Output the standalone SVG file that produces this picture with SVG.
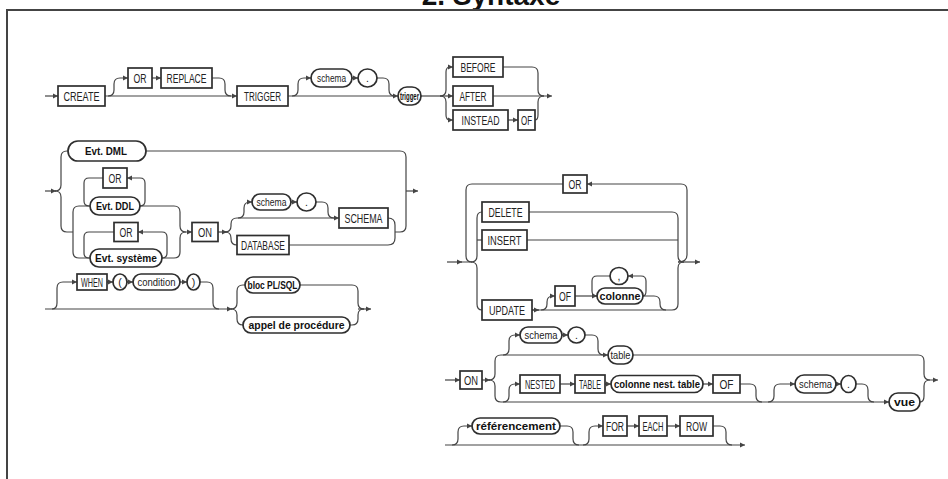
<svg xmlns="http://www.w3.org/2000/svg" width="948" height="479" viewBox="0 0 948 479">
  <style>
    .frame { fill: none; stroke: #444; stroke-width: 2; }
    .title { font-family: "Liberation Sans", Arial, sans-serif; font-size: 28px; font-weight: bold; fill: #111; text-anchor: middle; }
    .wire { fill: none; stroke: #444; stroke-width: 1.2; }
    .kw rect { fill: #fff; stroke: #2e2e2e; stroke-width: 1.7; }
    .nt rect, .nt ellipse { fill: #fff; stroke: #2e2e2e; stroke-width: 1.7; }
    .kw text { font-family: "Liberation Sans Narrow", "Liberation Sans", Arial, sans-serif; font-size: 12.5px; fill: #222; text-anchor: middle; }
    .nt text { font-family: "Liberation Sans", Arial, sans-serif; font-size: 10.5px; fill: #222; text-anchor: middle; }
    .nt.b text { font-weight: bold; font-size: 11px; fill: #111; }
  </style>
  <defs>
    <marker id="arr" markerUnits="userSpaceOnUse" markerWidth="6" markerHeight="6" refX="5" refY="3" orient="auto">
      <path d="M0,0.6 L5,3 L0,5.4 z" fill="#444"/>
    </marker>
  </defs>

  <!-- page frame and heading -->
  <text class="title" x="491" y="5">2. Syntaxe</text>
  <path class="frame" d="M6,10 H948"/>
  <path class="frame" d="M7,9 V479" stroke="#222"/>

  <!-- connectors -->
  <g id="connectors" class="wire">
    <!-- CREATE [OR REPLACE] TRIGGER [schema.] trigger {BEFORE|AFTER|INSTEAD OF} -->
    <path d="M45,96 H58" marker-end="url(#arr)"/>
    <path d="M105,96 H237" marker-end="url(#arr)"/>
    <path d="M108,96 Q114,96 114,90 V84 Q114,78 120,78 H128" marker-end="url(#arr)"/>
    <path d="M152,78 H161" marker-end="url(#arr)"/>
    <path d="M212,78 H219 Q225,78 225,84 V90 Q225,96 231,96"/>
    <path d="M288,96 H398" marker-end="url(#arr)"/>
    <path d="M292,96 Q298,96 298,90 V84 Q298,78 304,78 H311" marker-end="url(#arr)"/>
    <path d="M352,78 H358" marker-end="url(#arr)"/>
    <path d="M377,78 H383 Q389,78 389,84 V90 Q389,96 395,96"/>
    <path d="M421,96 H453" marker-end="url(#arr)"/>
    <path d="M440,96 Q446,96 446,90 V72 Q446,67 450,67 H453" marker-end="url(#arr)"/>
    <path d="M440,96 Q446,96 446,102 V115 Q446,120 450,120 H453" marker-end="url(#arr)"/>
    <path d="M508,120 H518" marker-end="url(#arr)"/>
    <path d="M503,67 H532 Q538,67 538,73 V90 Q538,96 544,96"/>
    <path d="M535,120 Q538,120 538,115 V102 Q538,96 544,96"/>
    <path d="M493,96 H552" marker-end="url(#arr)"/>

    <!-- event choice, ON {[schema.] SCHEMA | DATABASE} -->
    <path d="M45,191 H56" marker-end="url(#arr)"/>
    <path d="M55,191 Q61,191 61,185 V157 Q61,151 67,151 H68"/>
    <path d="M55,191 Q61,191 61,197 V226 Q61,232 67,232 H73"/>
    <path d="M73,232 V212 Q73,206 79,206 H90"/>
    <path d="M73,232 V252 Q73,258 79,258 H90"/>
    <path d="M140,206 Q145,206 145,201 V183 Q145,178 140,178 H127" marker-end="url(#arr)"/>
    <path d="M103,178 H89 Q84,178 84,183 V201 Q84,206 89,206"/>
    <path d="M162,258 Q167,258 167,253 V237 Q167,232 162,232 H138" marker-end="url(#arr)"/>
    <path d="M114,232 H89 Q84,232 84,237 V253 Q84,258 89,258"/>
    <path d="M140,206 H174 Q180,206 180,212 V226 Q180,232 186,232 H192" marker-end="url(#arr)"/>
    <path d="M162,258 H174 Q180,258 180,252 V238 Q180,232 186,232"/>
    <path d="M218,232 H227" marker-end="url(#arr)"/>
    <path d="M225,232 Q231,232 231,226 V224 Q231,218 237,218 H339" marker-end="url(#arr)"/>
    <path d="M225,232 Q231,232 231,238 V239 Q231,245 237,245"/>
    <path d="M238,218 Q244,218 244,212 V208 Q244,202 250,202 H252" marker-end="url(#arr)"/>
    <path d="M291,202 H297" marker-end="url(#arr)"/>
    <path d="M316,202 H322 Q328,202 328,208 V212 Q328,218 334,218"/>
    <path d="M388,218 Q395,218 395,225 V238 Q395,245 388,245 H289"/>
    <path d="M395,232 H400 Q406,232 406,226 V157 Q406,151 400,151 H146"/>
    <path d="M406,191 H418" marker-end="url(#arr)"/>

    <!-- [WHEN ( condition )] {bloc PL/SQL | appel de procedure} -->
    <path d="M45,309 H232" marker-end="url(#arr)"/>
    <path d="M52,309 Q57,309 57,303 V288 Q57,282 63,282 H77" marker-end="url(#arr)"/>
    <path d="M107,282 H113" marker-end="url(#arr)"/>
    <path d="M127,282 H133" marker-end="url(#arr)"/>
    <path d="M180,282 H187" marker-end="url(#arr)"/>
    <path d="M200,282 H207 Q213,282 213,288 V303 Q213,309 219,309"/>
    <path d="M231,309 Q237,309 237,303 V291 Q237,285 243,285 H245"/>
    <path d="M231,309 Q237,309 237,315 V319 Q237,325 243,325"/>
    <path d="M300,285 H352 Q358,285 358,291 V303 Q358,309 364,309"/>
    <path d="M350,325 H352 Q358,325 358,319 V315 Q358,309 364,309"/>
    <path d="M358,309 H371" marker-end="url(#arr)"/>

    <!-- DML event: DELETE | INSERT | UPDATE [OF colonne, ...] joined by OR -->
    <path d="M447,262 H462" marker-end="url(#arr)"/>
    <path d="M461,262 H471 Q477,262 477,256 V218 Q477,212 482,212"/>
    <path d="M477,240 H482"/>
    <path d="M471,262 Q477,262 477,268 V304 Q477,310 482,310"/>
    <path d="M563,184 H472 Q466,184 466,190 V256 Q466,262 472,262"/>
    <path d="M678,262 Q687,262 687,255 V190 Q687,184 681,184 H587" marker-end="url(#arr)"/>
    <path d="M529,212 H672 Q678,212 678,218 V256 Q678,262 684,262"/>
    <path d="M527,240 H678"/>
    <path d="M532,310 H672 Q678,310 678,304 V268 Q678,262 684,262"/>
    <path d="M678,262 H700" marker-end="url(#arr)"/>
    <path d="M532,310 H539" marker-end="url(#arr)"/>
    <path d="M541,310 Q547,310 547,304 V302 Q547,296 553,296 H555" marker-end="url(#arr)"/>
    <path d="M575,296 H597" marker-end="url(#arr)"/>
    <path d="M643,296 Q646,296 646,291 V281 Q646,276 641,276 H628" marker-end="url(#arr)"/>
    <path d="M610,276 H597 Q592,276 592,281 V291 Q592,296 597,296"/>
    <path d="M643,296 H654 Q660,296 660,302 V304 Q660,310 666,310"/>

    <!-- ON {[schema.] table | [NESTED TABLE ... OF] [schema.] vue} -->
    <path d="M445,380 H460" marker-end="url(#arr)"/>
    <path d="M482,380 H490" marker-end="url(#arr)"/>
    <path d="M489,380 Q495,380 495,374 V361 Q495,355 501,355 H608" marker-end="url(#arr)"/>
    <path d="M489,380 Q495,380 495,386 V396 Q495,402 501,402 H889" marker-end="url(#arr)"/>
    <path d="M503,355 Q509,355 509,349 V341 Q509,335 515,335 H520" marker-end="url(#arr)"/>
    <path d="M562,335 H568" marker-end="url(#arr)"/>
    <path d="M585,335 H592 Q598,335 598,341 V349 Q598,355 604,355"/>
    <path d="M633,355 H918 Q924,355 924,361 V374 Q924,380 930,380 H938" marker-end="url(#arr)"/>
    <path d="M920,402 Q924,402 924,396 V386 Q924,380 930,380"/>
    <path d="M503,402 Q509,402 509,396 V390 Q509,384 515,384 H520" marker-end="url(#arr)"/>
    <path d="M560,384 H575" marker-end="url(#arr)"/>
    <path d="M605,384 H611" marker-end="url(#arr)"/>
    <path d="M703,384 H713" marker-end="url(#arr)"/>
    <path d="M740,384 H750 Q756,384 756,390 V396 Q756,402 762,402"/>
    <path d="M768,402 Q774,402 774,396 V390 Q774,384 780,384 H795" marker-end="url(#arr)"/>
    <path d="M836,384 H841" marker-end="url(#arr)"/>
    <path d="M856,384 H862 Q868,384 868,390 V396 Q868,402 874,402"/>

    <!-- [referencement] [FOR EACH ROW] -->
    <path d="M445,445 H745" marker-end="url(#arr)"/>
    <path d="M452,445 Q458,445 458,439 V432 Q458,426 464,426 H472" marker-end="url(#arr)"/>
    <path d="M560,426 H567 Q573,426 573,432 V439 Q573,445 579,445"/>
    <path d="M583,445 Q589,445 589,439 V432 Q589,426 595,426 H603" marker-end="url(#arr)"/>
    <path d="M627,426 H639" marker-end="url(#arr)"/>
    <path d="M667,426 H680" marker-end="url(#arr)"/>
    <path d="M713,426 H720 Q726,426 726,432 V439 Q726,445 732,445"/>
  </g>

  <!-- row 1 -->
  <g id="create" class="kw"><rect x="58" y="86" width="47" height="20"/><text x="81.5" y="100.5" textLength="36" lengthAdjust="spacingAndGlyphs">CREATE</text></g>
  <g id="or1" class="kw"><rect x="128" y="68" width="24" height="20"/><text x="140" y="82.5" textLength="13" lengthAdjust="spacingAndGlyphs">OR</text></g>
  <g id="replace" class="kw"><rect x="161" y="68" width="51" height="20"/><text x="186.5" y="82.5" textLength="40" lengthAdjust="spacingAndGlyphs">REPLACE</text></g>
  <g id="trigger-kw" class="kw"><rect x="237" y="86" width="51" height="20"/><text x="262.5" y="100.5" textLength="37" lengthAdjust="spacingAndGlyphs">TRIGGER</text></g>
  <g id="schema1" class="nt"><rect x="311" y="69" width="41" height="18" rx="9"/><text x="331.5" y="81.7" textLength="29" lengthAdjust="spacingAndGlyphs">schema</text></g>
  <g id="dot1" class="nt"><ellipse cx="367.5" cy="78" rx="9.5" ry="9"/><text x="367.5" y="81.5">.</text></g>
  <g id="trigger" class="nt b"><rect x="398" y="87" width="23" height="18" rx="9"/><text x="409.5" y="99.8" textLength="19" lengthAdjust="spacingAndGlyphs" style="font-size:10px">trigger</text></g>
  <g id="before" class="kw"><rect x="453" y="57" width="50" height="20"/><text x="478" y="71.5" textLength="35" lengthAdjust="spacingAndGlyphs">BEFORE</text></g>
  <g id="after" class="kw"><rect x="453" y="86" width="40" height="20"/><text x="473" y="100.5" textLength="27" lengthAdjust="spacingAndGlyphs">AFTER</text></g>
  <g id="instead" class="kw"><rect x="453" y="110" width="55" height="20"/><text x="480.5" y="124.5" textLength="38" lengthAdjust="spacingAndGlyphs">INSTEAD</text></g>
  <g id="of1" class="kw"><rect x="518" y="110" width="17" height="20"/><text x="526.5" y="124.5" textLength="11" lengthAdjust="spacingAndGlyphs">OF</text></g>

  <!-- row 2 -->
  <g id="evt-dml" class="nt b"><rect x="68" y="141" width="78" height="20" rx="10"/><text x="106" y="154.8" textLength="42" lengthAdjust="spacingAndGlyphs">Evt. DML</text></g>
  <g id="or-ddl" class="kw"><rect x="103" y="168" width="24" height="20"/><text x="115" y="182.5" textLength="13" lengthAdjust="spacingAndGlyphs">OR</text></g>
  <g id="evt-ddl" class="nt b"><rect x="90" y="197" width="50" height="18" rx="9"/><text x="115" y="209.8" textLength="38" lengthAdjust="spacingAndGlyphs">Evt. DDL</text></g>
  <g id="or-sys" class="kw"><rect x="114" y="222.5" width="24" height="19"/><text x="126" y="236.5" textLength="13" lengthAdjust="spacingAndGlyphs">OR</text></g>
  <g id="evt-sys" class="nt b"><rect x="90" y="249" width="72" height="18" rx="9"/><text x="126" y="261.8" textLength="62" lengthAdjust="spacingAndGlyphs">Evt. système</text></g>
  <g id="on1" class="kw"><rect x="192" y="222.5" width="26" height="19"/><text x="205" y="236.5" textLength="14" lengthAdjust="spacingAndGlyphs">ON</text></g>
  <g id="schema2" class="nt"><rect x="252" y="194" width="39" height="16" rx="8"/><text x="271.5" y="205.7" textLength="30" lengthAdjust="spacingAndGlyphs">schema</text></g>
  <g id="dot2" class="nt"><ellipse cx="306.5" cy="202" rx="9.5" ry="9"/><text x="306.5" y="205.5">.</text></g>
  <g id="schema-kw" class="kw"><rect x="339" y="208" width="49" height="20"/><text x="363.5" y="222.5" textLength="38" lengthAdjust="spacingAndGlyphs">SCHEMA</text></g>
  <g id="database" class="kw"><rect x="237" y="235.5" width="52" height="19"/><text x="263" y="249.5" textLength="44" lengthAdjust="spacingAndGlyphs">DATABASE</text></g>

  <!-- row 3 -->
  <g id="when" class="kw"><rect x="77" y="274" width="30" height="16"/><text x="92" y="286.5" textLength="22" lengthAdjust="spacingAndGlyphs">WHEN</text></g>
  <g id="lparen" class="nt"><ellipse cx="120" cy="282" rx="7" ry="8"/><text x="120" y="285.5">(</text></g>
  <g id="condition" class="nt"><rect x="133" y="274" width="47" height="16" rx="8"/><text x="156.5" y="285.7" textLength="38" lengthAdjust="spacingAndGlyphs">condition</text></g>
  <g id="rparen" class="nt"><ellipse cx="193.5" cy="282" rx="6.5" ry="8"/><text x="193.5" y="285.5">)</text></g>
  <g id="bloc" class="nt b"><rect x="245" y="277" width="55" height="16" rx="8"/><text x="272.5" y="288.8" textLength="50" lengthAdjust="spacingAndGlyphs">bloc PL/SQL</text></g>
  <g id="appel" class="nt b"><rect x="243" y="317" width="107" height="16" rx="8"/><text x="296.5" y="328.8" textLength="96" lengthAdjust="spacingAndGlyphs">appel de procédure</text></g>

  <!-- DML event block -->
  <g id="or-dml" class="kw"><rect x="563" y="175" width="24" height="18"/><text x="575" y="188.5" textLength="13" lengthAdjust="spacingAndGlyphs">OR</text></g>
  <g id="delete" class="kw"><rect x="482" y="202" width="47" height="20"/><text x="505.5" y="216.5" textLength="34" lengthAdjust="spacingAndGlyphs">DELETE</text></g>
  <g id="insert" class="kw"><rect x="482" y="230" width="45" height="20"/><text x="504.5" y="244.5" textLength="34" lengthAdjust="spacingAndGlyphs">INSERT</text></g>
  <g id="update" class="kw"><rect x="482" y="300" width="50" height="20"/><text x="507" y="314.5" textLength="36" lengthAdjust="spacingAndGlyphs">UPDATE</text></g>
  <g id="of2" class="kw"><rect x="555" y="286" width="20" height="20"/><text x="565" y="300.5" textLength="12" lengthAdjust="spacingAndGlyphs">OF</text></g>
  <g id="comma" class="nt"><ellipse cx="619" cy="276" rx="9" ry="8.5"/><text x="619" y="279.5">,</text></g>
  <g id="colonne" class="nt b"><rect x="597" y="288" width="46" height="16" rx="8"/><text x="620" y="299.8" textLength="41" lengthAdjust="spacingAndGlyphs">colonne</text></g>

  <!-- ON table / vue block -->
  <g id="on2" class="kw"><rect x="460" y="371" width="22" height="18"/><text x="471" y="384.5" textLength="14" lengthAdjust="spacingAndGlyphs">ON</text></g>
  <g id="schema3" class="nt"><rect x="520" y="327" width="42" height="16" rx="8"/><text x="541" y="338.7" textLength="33" lengthAdjust="spacingAndGlyphs">schema</text></g>
  <g id="dot3" class="nt"><ellipse cx="576.5" cy="335" rx="8.5" ry="8"/><text x="576.5" y="338.5">.</text></g>
  <g id="table" class="nt"><rect x="608" y="346" width="25" height="18" rx="9"/><text x="620.5" y="358.7" textLength="20" lengthAdjust="spacingAndGlyphs">table</text></g>
  <g id="nested" class="kw"><rect x="520" y="375" width="40" height="18"/><text x="540" y="388.5" textLength="30" lengthAdjust="spacingAndGlyphs">NESTED</text></g>
  <g id="table-kw" class="kw"><rect x="575" y="375" width="30" height="18"/><text x="590" y="388.5" textLength="22" lengthAdjust="spacingAndGlyphs">TABLE</text></g>
  <g id="colonne-nest" class="nt b"><rect x="611" y="375.5" width="92" height="17" rx="8.5"/><text x="657" y="387.8" textLength="86" lengthAdjust="spacingAndGlyphs">colonne nest. table</text></g>
  <g id="of3" class="kw"><rect x="713" y="375" width="27" height="18"/><text x="726.5" y="388.5" textLength="14" lengthAdjust="spacingAndGlyphs">OF</text></g>
  <g id="schema4" class="nt"><rect x="795" y="375" width="41" height="18" rx="9"/><text x="815.5" y="387.7" textLength="33" lengthAdjust="spacingAndGlyphs">schema</text></g>
  <g id="dot4" class="nt"><ellipse cx="848.5" cy="384" rx="7.5" ry="8.5"/><text x="848.5" y="387.5">.</text></g>
  <g id="vue" class="nt b"><rect x="889" y="393" width="31" height="18" rx="9"/><text x="904.5" y="405.8" textLength="21" lengthAdjust="spacingAndGlyphs">vue</text></g>

  <!-- last row -->
  <g id="referencement" class="nt b"><rect x="472" y="418" width="88" height="16" rx="8"/><text x="516" y="429.8" textLength="80" lengthAdjust="spacingAndGlyphs">référencement</text></g>
  <g id="for" class="kw"><rect x="603" y="416" width="24" height="20"/><text x="615" y="430.5" textLength="18" lengthAdjust="spacingAndGlyphs">FOR</text></g>
  <g id="each" class="kw"><rect x="639" y="416" width="28" height="20"/><text x="653" y="430.5" textLength="21" lengthAdjust="spacingAndGlyphs">EACH</text></g>
  <g id="row" class="kw"><rect x="680" y="416" width="33" height="20"/><text x="696.5" y="430.5" textLength="21" lengthAdjust="spacingAndGlyphs">ROW</text></g>
</svg>
